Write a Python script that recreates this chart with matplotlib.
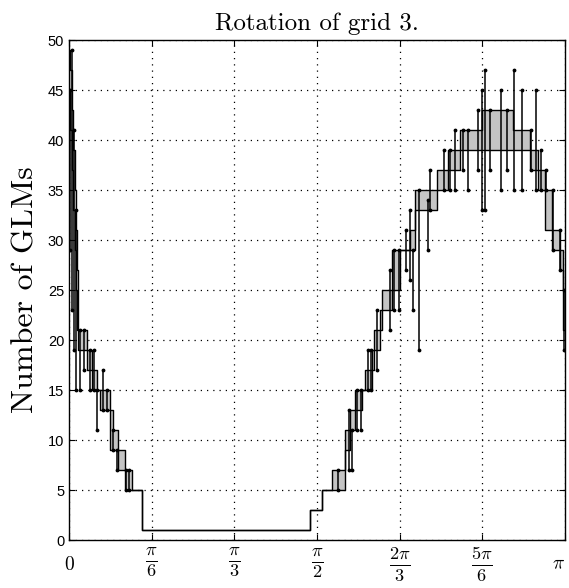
import numpy as np
import matplotlib
matplotlib.use('Agg')
import matplotlib.pyplot as plt
from matplotlib.transforms import ScaledTranslation

plt.rcParams['mathtext.fontset'] = 'cm'

# stair band: start of each step (degrees), lower and upper level
seg_deg = [0.0, 0.5, 1.0, 1.5, 2.0, 2.5, 3.0, 3.3, 6.5, 8.3, 10.2, 11.2, 14.9,
           16.0, 17.8, 20.3, 22.9, 26.5, 87.5, 91.8, 95.4, 100.2, 101.9, 103.8,
           106.3, 107.4, 110.0, 110.5, 112.9, 113.6, 117.2, 120.1, 123.7, 125.6,
           133.5, 137.5, 141.9, 149.9, 161.1, 167.3, 170.2, 172.7, 175.3, 178.2,
           179.3]
band_lo = [45, 41, 37, 33, 29, 25, 21, 19, 17, 15, 15, 13, 9,
           9, 7, 5, 5, 1, 3, 5, 5, 9, 11, 13,
           15, 15, 17, 19, 21, 23, 25, 29, 29, 33,
           35, 37, 39, 39, 39, 37, 35, 31, 29, 27,
           21]
band_hi = [49, 47, 43, 39, 35, 31, 27, 21, 19, 17, 15, 15, 13,
           11, 9, 7, 5, 1, 3, 5, 7, 11, 13, 15,
           15, 17, 19, 21, 23, 25, 29, 29, 31, 35,
           37, 39, 41, 43, 41, 39, 37, 35, 31, 29,
           25]

# error bars: angle (degrees), min and max number of GLMs
bar_deg = [0.4, 1.1, 1.8, 2.6, 4.0, 5.6, 7.6, 9.1, 10.2, 12.3, 13.8, 16.0,
           17.5, 20.7, 21.8, 97.6, 101.6, 102.7, 104.5, 106.0, 108.5, 109.5,
           111.8, 116.5, 117.9, 119.8, 122.4, 123.7, 124.8, 127.0, 130.3,
           131.0, 136.0, 138.3, 140.1, 143.0, 144.8, 148.4, 149.9, 151.0,
           152.8, 156.7, 158.8, 161.5, 164.4, 167.6, 169.5, 171.3, 173.1,
           175.7, 178.0, 179.6]
bar_lo = [29, 23, 19, 15, 15, 17, 15, 15, 11, 13, 13, 9,
          7, 5, 5, 5, 7, 7, 11, 11, 15, 15,
          17, 21, 23, 23, 27, 26, 23, 19, 29,
          33, 35, 35, 35, 37, 35, 37, 33, 33,
          37, 35, 37, 35, 35, 37, 35, 35, 35,
          29, 27, 19]
bar_hi = [45, 49, 41, 33, 21, 21, 19, 19, 15, 17, 15, 11,
          9, 7, 7, 7, 13, 11, 15, 15, 19, 19,
          23, 27, 29, 29, 31, 33, 29, 35, 34,
          37, 39, 39, 41, 41, 41, 43, 45, 47,
          43, 45, 43, 47, 45, 41, 45, 39, 37,
          35, 31, 25]

fig = plt.figure(figsize=(5.69, 5.88), dpi=100)
ax = fig.add_axes([0.1213, 0.0816, 0.8717, 0.8503])

x = np.deg2rad(seg_deg + [180.0])
lo = band_lo + [band_lo[-1]]
hi = band_hi + [band_hi[-1]]
ax.fill_between(x, lo, hi, step='post', color='#c4c4c4', lw=0, zorder=2)
ax.step(x, lo, where='post', color='k', lw=1.0, zorder=3)
ax.step(x, hi, where='post', color='k', lw=1.0, zorder=3)

xb = np.deg2rad(bar_deg)
ax.vlines(xb, bar_lo, bar_hi, color='k', lw=1.1, zorder=4)
ax.plot(xb, bar_lo, 'k.', ms=3.5, zorder=5)
ax.plot(xb, bar_hi, 'k.', ms=3.5, zorder=5)

ax.set_xlim(0, np.pi)
ax.set_ylim(0, 50)
ax.set_xticks(np.arange(7) * np.pi / 6)
ax.set_xticklabels(['$0$', r'$\frac{\pi}{6}$', r'$\frac{\pi}{3}$', r'$\frac{\pi}{2}$',
                    r'$\frac{2\pi}{3}$', r'$\frac{5\pi}{6}$', r'$\pi$'], fontsize=19)
ax.set_yticks(range(0, 51, 5))
for t in ax.get_yticklabels():
    t.set_family('Liberation Sans')
    t.set_fontsize(10.5)
ax.tick_params(direction='in', length=4, width=0.8, top=True, right=True)
ax.tick_params(axis='x', pad=4)
ax.grid(True, color='k', linestyle=(0, (1, 4)), lw=0.9)
for s in ax.spines.values():
    s.set_linewidth(1.0)

# plain "0" and "pi" sit at the middle height of the fraction labels
down = ScaledTranslation(0, -6.5 / 72, fig.dpi_scale_trans)
labs = ax.get_xticklabels()
for t in (labs[0], labs[-1]):
    t.set_fontsize(14)
    t.set_transform(t.get_transform() + down)
labs[-1].set_horizontalalignment('right')

ax.set_ylabel('Number of GLMs', family='cmr10', fontsize=23, labelpad=6)
ax.set_title('Rotation of grid 3.', family='cmr10', fontsize=18, pad=7)

fig.savefig('out.png', dpi=100)
